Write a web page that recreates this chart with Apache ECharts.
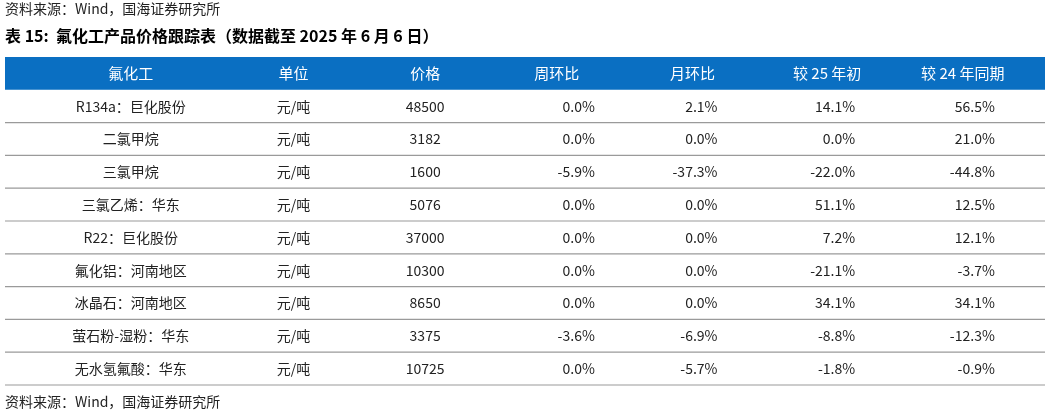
<!DOCTYPE html><html><head><meta charset="utf-8"><script src="https://cdn.jsdelivr.net/npm/echarts@6/dist/echarts.min.js"></script>
<style>html,body{margin:0;background:#fff}#c{width:1053px;height:418px}</style></head><body><div id="c"></div><script>
const headers=['氟化工','单位','价格','周环比','月环比','较 25 年初','较 24 年同期'];
const products=['R134a：巨化股份','二氯甲烷','三氯甲烷','三氯乙烯：华东','R22：巨化股份','氟化铝：河南地区','冰晶石：河南地区','萤石粉-湿粉：华东','无水氢氟酸：华东'];
const units=['元/吨','元/吨','元/吨','元/吨','元/吨','元/吨','元/吨','元/吨','元/吨'];
const prices=[48500,3182,1600,5076,37000,10300,8650,3375,10725];
const weekChg=['0.0%','0.0%','-5.9%','0.0%','0.0%','0.0%','0.0%','-3.6%','0.0%'];
const monthChg=['2.1%','0.0%','-37.3%','0.0%','0.0%','0.0%','0.0%','-6.9%','-5.7%'];
const ytdChg=['14.1%','0.0%','-22.0%','51.1%','7.2%','-21.1%','34.1%','-8.8%','-1.8%'];
const yoyChg=['56.5%','21.0%','-44.8%','12.5%','12.1%','-3.7%','34.1%','-12.3%','-0.9%'];
const rowsCat=['h'].concat(products.map((_, i)=>'r'+i));
const data=[];
headers.forEach((h,c)=>data.push([c,'h',h,1]));
const cols=[products,units,prices.map(String),weekChg,monthChg,ytdChg,yoyChg];
products.forEach((_,r)=>cols.forEach((col,c)=>data.push([c,'r'+r,col[r],0])));
const hOff=[1,25,18,11,8,4,1];
const dOff=[1,25,18,49,33,32,33];
const dAlign=['center','center','center','right','right','right','right'];
const font='"Noto Sans CJK SC", sans-serif';
const chart=echarts.init(document.getElementById('c'));
chart.setOption({
 animation:false,
 graphic:[
  {type:'text',left:5,top:2,style:{text:'资料来源：Wind，国海证券研究所',font:'14px '+font,fill:'#222'}},
  {type:'text',left:5,top:28,style:{text:'表 15:  氟化工产品价格跟踪表（数据截至 2025 年 6 月 6 日）',font:'bold 16px '+font,fill:'#000'}},
  {type:'text',left:5,top:395,style:{text:'资料来源：Wind，国海证券研究所',font:'14px '+font,fill:'#222'}}
 ],
 grid:{left:5,right:8,top:57,bottom:33},
 xAxis:{type:'value',min:-0.9,max:6.6,show:false},
 yAxis:{type:'category',data:rowsCat,inverse:true,show:false},
 series:[{type:'custom',data:data,encode:{x:0,y:1},
  renderItem:function(params,api){
   const c=api.value(0), isH=api.value(3)===1;
   const p=api.coord([c,api.value(1)]);
   const h=api.size([0,1])[1];
   const cs=params.coordSys;
   const children=[];
   if(c===0){
    if(isH) children.push({type:'rect',shape:{x:cs.x,y:p[1]-h/2,width:cs.width,height:h},style:{fill:'#0a6fc2'}});
    else children.push({type:'line',shape:{x1:cs.x,y1:p[1]+h/2,x2:cs.x+cs.width,y2:p[1]+h/2},style:{stroke:'#9a9a9a',lineWidth:1.2}});
   }
   const txt=String(api.value(2));
   children.push({type:'text',x:p[0]+(isH?hOff[c]:dOff[c]),y:p[1],style:{text:txt,align:isH?'center':dAlign[c],verticalAlign:'middle',font:(isH?'15px ':'14px ')+font,fill:isH?'#fff':'#222'}});
   return {type:'group',children:children};
  }}]
});
</script></body></html>
